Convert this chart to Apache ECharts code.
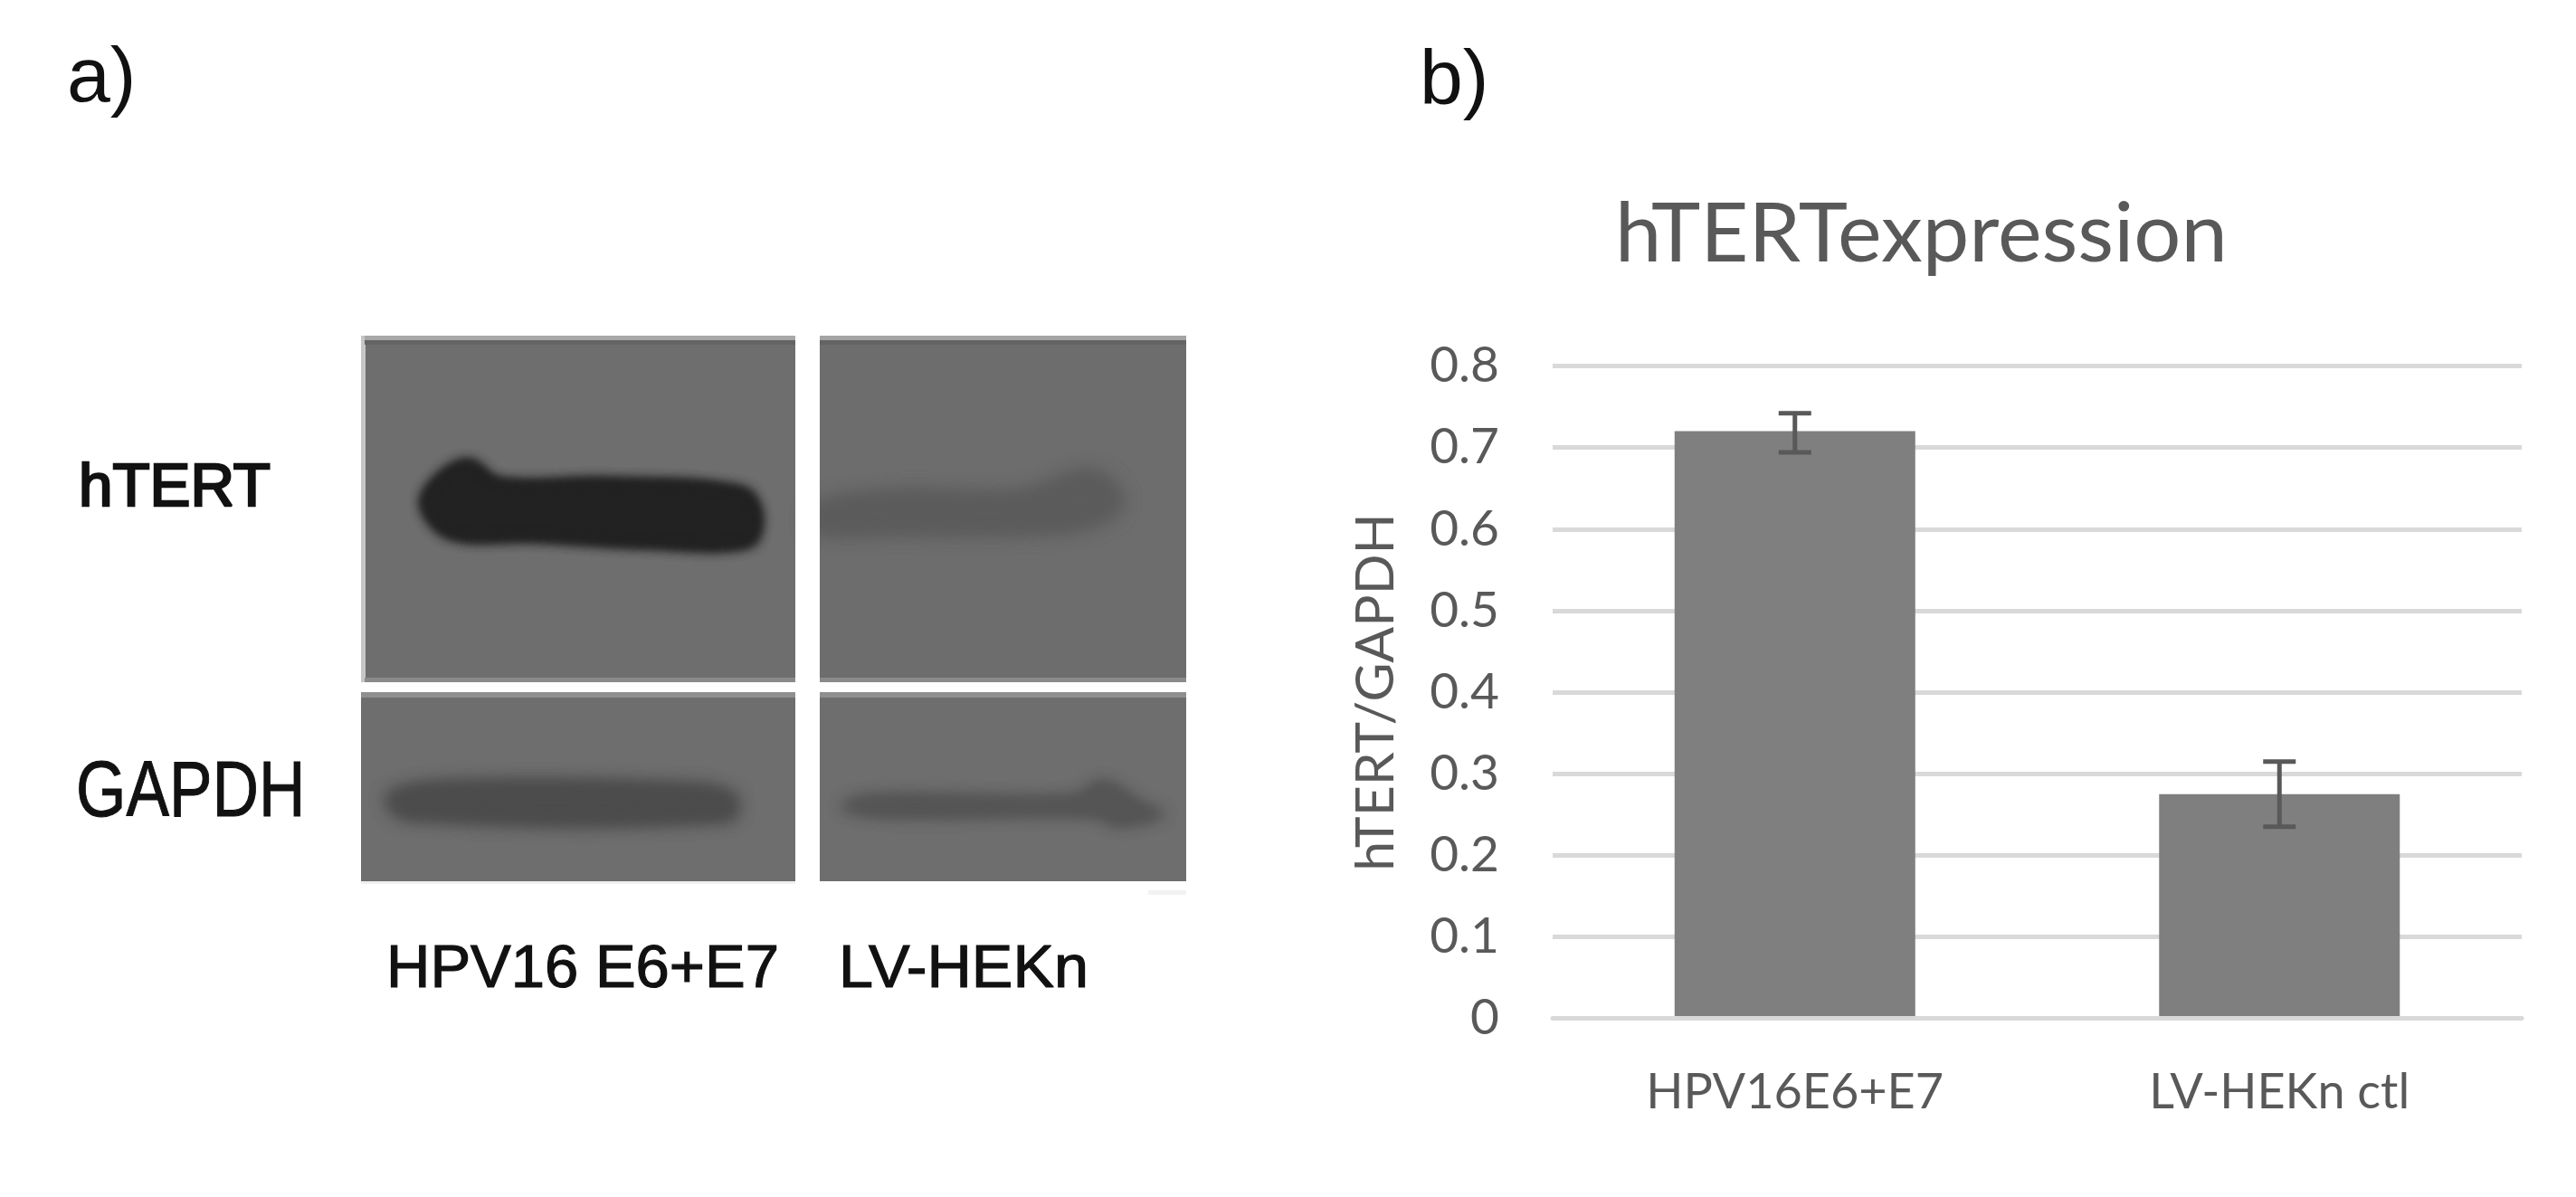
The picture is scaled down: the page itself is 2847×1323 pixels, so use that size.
<!DOCTYPE html>
<html>
<head>
<meta charset="utf-8">
<style>html,body{margin:0;padding:0;background:#fff}#c{width:2847px;height:1323px}</style>
<script src="https://cdn.jsdelivr.net/npm/echarts@6/dist/echarts.min.js"></script>
</head>
<body>
<div id="c"></div>
<script>
const categories = ['HPV16E6+E7', 'LV-HEKn ctl'];
const means = [0.72, 0.275];
const errLow = [0.694, 0.235];
const errHigh = [0.742, 0.315];
const tickLabels = ['0', '0.1', '0.2', '0.3', '0.4', '0.5', '0.6', '0.7', '0.8'];

const chart = echarts.init(document.getElementById('c'), null, {renderer: 'canvas'});

const rect = (x, y, w, h, fill) => ({type: 'rect', shape: {x, y, width: w, height: h}, style: {fill}, silent: true});
// A blurred blot band: the outline sits off-canvas, only its soft shadow lands on the film.
const OFF = 3200;
const band = (points, color, blur, passes) => Array.from({length: passes}, () => ({
  type: 'polygon', x: -OFF, shape: {points, smooth: 0.35},
  style: {fill: color, shadowBlur: blur, shadowColor: color, shadowOffsetX: OFF}, silent: true
}));
const label = (text, x, y, font, sx, heavy) => ({
  type: 'text', x, y, scaleX: sx, silent: true,
  style: {text, font, fill: '#111', stroke: heavy ? '#111' : null, lineWidth: heavy || 0, align: 'left', verticalAlign: 'middle'}
});
const sans = '"Liberation Sans"';

const blot = [
  // film panels
  rect(403, 372, 476, 382, '#6e6e6e'),
  rect(906, 372, 405, 382, '#6d6d6d'),
  rect(399, 765, 480, 209, '#6e6e6e'),
  rect(906, 765, 405, 209, '#6e6e6e'),
  // film edges
  rect(399, 371, 5, 383, '#c6c6c6'),
  rect(403, 371, 476, 5, '#a8a8a8'),
  rect(403, 376, 476, 5, '#646464'),
  rect(906, 371, 405, 5, '#a4a4a4'),
  rect(906, 376, 405, 5, '#646464'),
  rect(403, 749, 476, 5, '#8a8a8a'),
  rect(906, 749, 405, 5, '#8a8a8a'),
  rect(399, 765, 480, 6, '#8f8f8f'),
  rect(906, 765, 405, 6, '#8f8f8f'),
  rect(399, 974, 480, 3, '#f0f0f0'),
  rect(1269, 984, 58, 5, '#f2f2f2'),
  // bands
  ...band([[467,559],[482,529],[518,510],[552,531],[672,531],[821,541],[840,570],[828,602],[713,603],[589,596],[498,593]], '#222222', 13, 3),
  ...band([[900,560],[986,545],[1128,545],[1206,522],[1240,554],[1206,580],[1128,588],[994,588],[900,586]], '#5c5c5c', 20, 2),
  ...band([[428,880],[484,866],[763,868],[812,880],[806,906],[448,904]], '#4c4c4c', 18, 2),
  ...band([[930,892],[962,880],[1186,880],[1219,864],[1262,888],[1286,900],[1236,912],[1210,902],[976,902]], '#555555', 15, 2),
  // white gutters over blur overflow
  rect(879, 360, 27, 630, '#ffffff'),
  rect(1311, 360, 40, 630, '#ffffff'),
  rect(880, 754, 440, 11, '#ffffff'),
  // labels
  label('a)', 74, 88, '86px ' + sans, 1),
  label('b)', 1569, 91, '86px ' + sans, 1),
  label('hTERT', 87, 541, '66px ' + sans, 1.02, 2.5),
  label('GAPDH', 84, 878, '88px ' + sans, 0.81, 1),
  label('HPV16 E6+E7', 427, 1073, '67px ' + sans, 1, 1.2),
  label('LV-HEKn', 927, 1073, '67px ' + sans, 1.02, 1.2)
];

chart.setOption({
  animation: false,
  backgroundColor: '#ffffff',
  title: {
    text: 'hTERTexpression',
    left: 1780, top: 208,
    textStyle: {fontFamily: 'Lato', fontWeight: 'normal', fontSize: 92, color: '#595959'}
  },
  grid: {left: 1716, right: 60, top: 404.5, bottom: 197.4},
  xAxis: {
    type: 'category', data: categories, z: 3,
    axisTick: {show: false},
    axisLine: {show: true, lineStyle: {color: '#d9d9d9', width: 5}},
    axisLabel: {fontFamily: 'Lato', fontSize: 54, color: '#595959', margin: 55}
  },
  yAxis: {
    type: 'value', min: 0, max: 0.8, interval: 0.1,
    name: 'hTERT/GAPDH', nameLocation: 'middle', nameGap: 166, nameRotate: 90,
    nameTextStyle: {fontFamily: 'Lato', fontSize: 59, color: '#595959'},
    axisLine: {show: false}, axisTick: {show: false},
    splitLine: {lineStyle: {color: '#d9d9d9', width: 5}},
    axisLabel: {
      fontFamily: 'Lato', fontSize: 55, color: '#595959', margin: 59,
      formatter: (v) => tickLabels[Math.round(v * 10)]
    }
  },
  series: [
    {
      type: 'bar', data: means, barWidth: 266,
      itemStyle: {color: '#7f7f7f'}
    },
    {
      type: 'custom', z: 4,
      data: categories.map((c, i) => [i, errLow[i], errHigh[i]]),
      encode: {x: 0, y: [1, 2]},
      renderItem: (params, api) => {
        const lo = api.coord([api.value(0), api.value(1)]);
        const hi = api.coord([api.value(0), api.value(2)]);
        const cap = 18;
        const style = {stroke: '#595959', lineWidth: 5, fill: 'none'};
        return {
          type: 'group',
          children: [
            {type: 'line', shape: {x1: lo[0], y1: lo[1], x2: hi[0], y2: hi[1]}, style},
            {type: 'line', shape: {x1: lo[0] - cap, y1: lo[1], x2: lo[0] + cap, y2: lo[1]}, style},
            {type: 'line', shape: {x1: hi[0] - cap, y1: hi[1], x2: hi[0] + cap, y2: hi[1]}, style}
          ]
        };
      }
    }
  ],
  graphic: {elements: blot}
});
</script>
</body>
</html>
